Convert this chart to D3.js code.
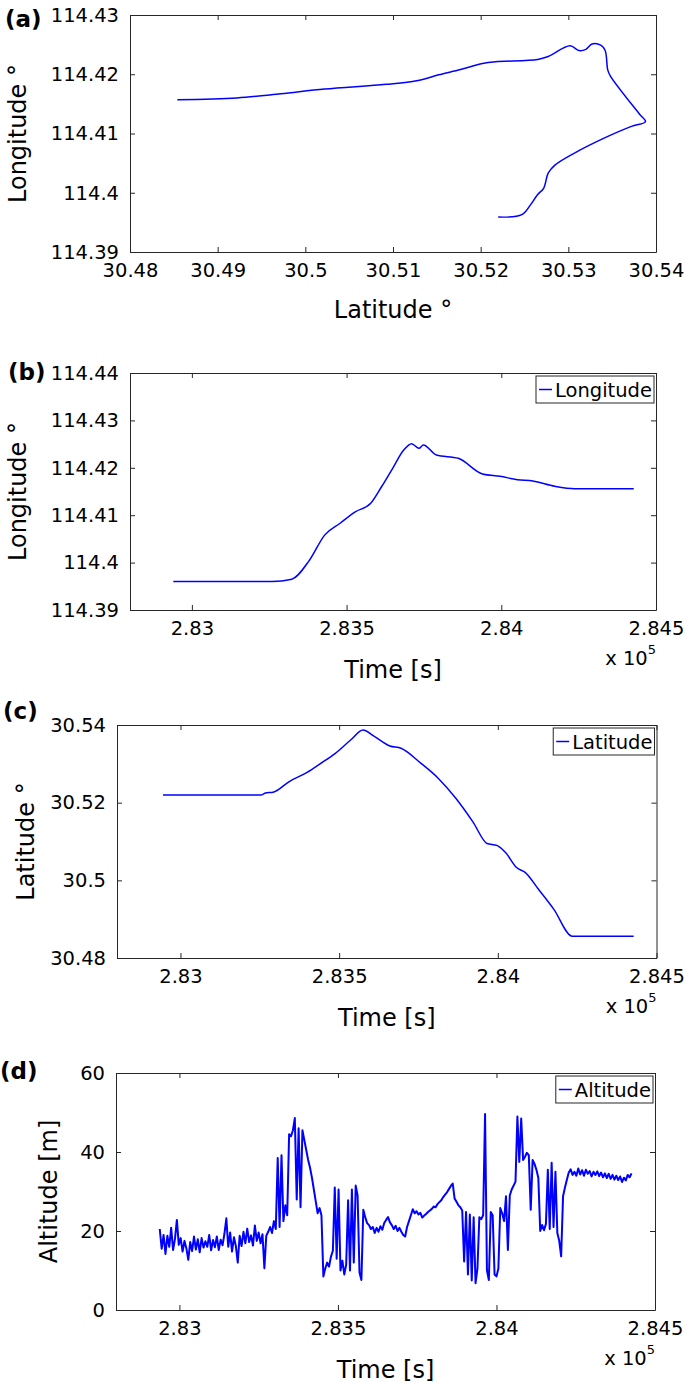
<!DOCTYPE html>
<html lang="en">
<head>
    <meta charset="UTF-8">
    <title>GPS track - position and altitude</title>
    <script src="https://cdn.jsdelivr.net/npm/d3@7/dist/d3.min.js"></script>
    <style>
        html, body {
            margin: 0;
            padding: 0;
            background: #fff;
        }
        svg text {
            font-family: "DejaVu Sans", sans-serif;
            fill: #000;
        }
    </style>
</head>
<body>
<svg id="fig" width="685" height="1383"></svg>

<script>
    // (a) track: latitude / longitude pairs in time order
    var trackLat = [30.5220, 30.5247, 30.5257, 30.5265, 30.5272, 30.5277, 30.5285, 30.5307, 30.5342, 30.5372, 30.5388,
        30.5381, 30.5348, 30.5345, 30.5342, 30.5337, 30.5327, 30.5320, 30.5312, 30.5302, 30.5277, 30.5265,
        30.5217, 30.5202, 30.5177, 30.5152, 30.5127, 30.5092, 30.5022, 30.4972, 30.4922, 30.4854];
    var trackLon = [114.3959, 114.3963, 114.3980, 114.3997, 114.4008, 114.4033, 114.4047, 114.4067, 114.4093, 114.4112, 114.4120,
        114.4133, 114.4197, 114.4207, 114.4240, 114.4249, 114.4251, 114.4242, 114.4240, 114.4248, 114.4230, 114.4225,
        114.4221, 114.4218, 114.4208, 114.4199, 114.4189, 114.4183, 114.4175, 114.4167, 114.4160, 114.4157];

    // (b) longitude over time [s]
    var lonTime = [282940, 283259, 283323, 283380, 283429, 283479, 283528, 283578, 283613, 283649, 283684, 283710,
        283734, 283748, 283790, 283861, 283939, 283996, 284052, 284102, 284173, 284237, 284428];
    var lonValue = [114.3960, 114.3960, 114.3965, 114.4005, 114.4058, 114.4083, 114.4107, 114.4125, 114.4160, 114.4199,
        114.4237, 114.4251, 114.4241, 114.4248, 114.4227, 114.4220, 114.4187, 114.4182, 114.4175, 114.4172,
        114.4161, 114.4156, 114.4156];

    // (c) latitude over time [s]
    var latTime = [282945, 283255, 283268, 283292, 283344, 283399, 283440, 283488, 283537, 283575, 283612, 283660,
        283695, 283757, 283812, 283867, 283922, 283966, 283997, 284025, 284059, 284087, 284128, 284176, 284235, 284428];
    var latValue = [30.5220, 30.5220, 30.5225, 30.5227, 30.5255, 30.5278, 30.5300, 30.5327, 30.5362, 30.5387,
        30.5370, 30.5346, 30.5340, 30.5302, 30.5263, 30.5212, 30.5150, 30.5095, 30.5090, 30.5071,
        30.5033, 30.5020, 30.4977, 30.4926, 30.4856, 30.4856];

    // (d) altitude [m], one reading every altStep seconds from altStart
    var altStart = 282938;
    var altStep = 6;
    var altValue = [
        20.5, 15.5, 19.0, 14.2, 18.8, 16.0, 20.8, 15.2, 18.0, 22.8, 16.5, 18.2, 14.8, 17.5, 15.6, 12.7, 17.2, 14.9, 18.6, 15.3,
        17.9, 14.6, 18.2, 15.8, 17.4, 16.0, 19.0, 15.1, 17.7, 15.9, 18.6, 15.2, 17.8, 16.4, 19.3, 23.2, 16.0, 19.6, 14.8, 18.4,
        16.2, 12.0, 18.8, 16.2, 19.8, 16.9, 20.6, 17.2, 18.9, 16.3, 21.4, 17.5, 19.6, 16.9, 19.2, 10.6, 18.8,
        19.8, 21.0, 19.5, 22.5, 20.5, 38.5, 21.0, 39.2, 22.5, 26.5, 24.0, 44.5, 44.0, 45.5, 48.6, 28.0, 46.0, 26.0, 45.5, 43.0,
        40.5, 38.0, 36.0, 33.5, 30.5, 27.5, 24.5, 25.8, 24.0, 8.5, 10.5, 12.0, 11.0, 13.5, 15.0, 31.0, 13.0, 30.5, 10.0, 12.5,
        9.0, 11.5, 27.8, 10.0, 30.5, 12.0, 31.5, 29.0, 9.5, 7.6, 25.4, 23.5, 22.0, 21.5, 20.5, 21.0, 19.5, 20.8, 19.8, 21.2,
        20.3, 22.0, 22.8, 23.5, 22.2, 21.5, 20.5, 21.3, 20.0, 20.8, 19.8,
        19.0, 18.6, 21.0, 22.5, 24.0, 25.5, 24.5, 25.0, 24.2, 24.6, 23.4, 23.9, 24.3, 24.8, 25.2, 25.6, 26.2, 26.0, 26.8, 27.3,
        27.8, 28.6, 29.2, 29.8, 30.6, 31.4, 32.0, 28.2, 27.4, 26.5, 26.0, 25.2, 12.3, 24.8, 9.0, 24.2, 7.5, 23.5, 6.8, 10.5,
        23.5, 23.0, 24.0, 49.6, 10.0, 7.6, 24.8, 24.0, 9.0, 8.5, 10.5, 25.8, 24.5, 22.5, 28.8, 15.2, 29.0, 30.5, 31.5, 32.5,
        49.0, 37.5, 48.5, 38.0, 38.8, 39.8, 39.2, 25.4, 38.0, 37.0, 35.5, 33.5, 20.0, 21.5, 20.2, 21.8, 35.5, 20.5, 37.3, 21.0,
        35.0, 19.5, 17.5, 13.6, 28.8, 31.0, 33.0, 34.8, 35.6, 34.2, 35.0, 34.0, 35.8, 34.3, 35.4, 34.0, 35.5, 34.5, 35.2, 33.8,
        35.0, 34.2, 35.1, 33.9, 34.8, 33.6, 34.6, 33.4, 34.5, 33.2, 34.2, 33.0, 34.0, 32.9, 33.8, 32.4, 33.5, 32.8, 34.2, 33.6,
        34.6];

    // ticks
    var trackLatTicks = [30.48, 30.49, 30.50, 30.51, 30.52, 30.53, 30.54];
    var trackLonTicks = [114.39, 114.40, 114.41, 114.42, 114.43];
    var timeTicks = [283000, 283500, 284000, 284500];
    var lonTicks = [114.39, 114.40, 114.41, 114.42, 114.43, 114.44];
    var latTicks = [30.48, 30.50, 30.52, 30.54];
    var altTicks = [0, 20, 40, 60];

    var timeDomain = [282800, 284500];
    var axisColor = "#262626";
    var lineColor = "#0000ff";
    var tickFont = 19.5;

    var svg = d3.select("#fig");

    // draws the box with inward ticks on all four sides
    function drawFrame(box, x, y, xTicks, yTicks, xFmt, yFmt) {
        var g = svg.append("g");
        var parts = [
            {ax: d3.axisBottom(x).tickValues(xTicks).tickFormat(xFmt), tr: [0, box.b]},
            {ax: d3.axisTop(x).tickValues(xTicks).tickFormat(""), tr: [0, box.t]},
            {ax: d3.axisLeft(y).tickValues(yTicks).tickFormat(yFmt), tr: [box.l, 0]},
            {ax: d3.axisRight(y).tickValues(yTicks).tickFormat(""), tr: [box.r, 0]}
        ];
        parts.forEach(function (p) {
            var a = g.append("g")
                .attr("transform", "translate(" + p.tr[0] + "," + p.tr[1] + ")")
                .attr("color", axisColor)
                .call(p.ax.tickSizeInner(-5).tickSizeOuter(0).tickPadding(11));
            a.attr("font-size", tickFont).attr("font-family", "DejaVu Sans");
            a.selectAll("text").attr("fill", "#000");
        });
        return g;
    }

    function drawLine(xs, ys, x, y, width, curve) {
        var pts = d3.zip(xs, ys);
        var line = d3.line()
            .x(function (d) { return x(d[0]); })
            .y(function (d) { return y(d[1]); });
        if (curve) line.curve(curve);
        svg.append("path")
            .datum(pts)
            .attr("fill", "none")
            .attr("stroke", lineColor)
            .attr("stroke-width", width)
            .attr("stroke-linejoin", "round")
            .attr("d", line);
    }

    function legend(box, label) {
        var g = svg.append("g");
        var rect = g.append("rect");
        var t = g.append("text")
            .attr("font-size", tickFont)
            .text(label);
        var w = t.node().getComputedTextLength();
        var right = box.r - 2, top = box.t + 3, h = 27;
        var tx = right - 2 - w;
        rect.attr("x", tx - 19).attr("y", top)
            .attr("width", w + 21).attr("height", h)
            .attr("fill", "#fff").attr("stroke", axisColor).attr("stroke-width", 1);
        t.attr("x", tx).attr("y", top + h / 2 + 7.5);
        g.append("line")
            .attr("x1", tx - 16).attr("x2", tx - 3)
            .attr("y1", top + h / 2).attr("y2", top + h / 2)
            .attr("stroke", lineColor).attr("stroke-width", 1.5);
    }

    function panelLabel(txt, x, y) {
        svg.append("text").attr("x", x).attr("y", y)
            .attr("font-size", 23).attr("font-weight", "bold")
            .text(txt);
    }

    function yLabel(txt, x, cy) {
        svg.append("text")
            .attr("transform", "translate(" + x + "," + cy + ") rotate(-90)")
            .attr("text-anchor", "middle")
            .attr("font-size", 24)
            .text(txt);
    }

    function xLabel(txt, cx, y) {
        svg.append("text")
            .attr("x", cx).attr("y", y)
            .attr("text-anchor", "middle")
            .attr("font-size", 24)
            .text(txt);
    }

    function timeExtras(box) {
        var t = svg.append("text")
            .attr("x", box.r).attr("y", box.b + 55)
            .attr("text-anchor", "end")
            .attr("font-size", tickFont);
        t.append("tspan").text("x 10");
        t.append("tspan").attr("font-size", 13).attr("dy", -11).text("5");
        xLabel("Time [s]", (box.l + box.r) / 2, box.b + 68);
    }

    var numFmt = function (d) { return String(d); };
    var timeFmt = function (d) { return String(d / 1e5); };

    // ---- (a) ----
    var boxA = {l: 130, r: 656, t: 15, b: 252};
    var xA = d3.scaleLinear().domain([30.48, 30.54]).range([boxA.l, boxA.r]);
    var yA = d3.scaleLinear().domain([114.39, 114.43]).range([boxA.b, boxA.t]);
    drawLine(trackLat, trackLon, xA, yA, 1.5, d3.curveCatmullRom.alpha(0.5));
    drawFrame(boxA, xA, yA, trackLatTicks, trackLonTicks, numFmt, numFmt);
    panelLabel("(a)", 5, 27);
    yLabel("Longitude °", 26, (boxA.t + boxA.b) / 2);
    xLabel("Latitude °", (boxA.l + boxA.r) / 2, 318);

    // ---- (b) ----
    var boxB = {l: 130, r: 656, t: 373, b: 610};
    var xB = d3.scaleLinear().domain(timeDomain).range([boxB.l, boxB.r]);
    var yB = d3.scaleLinear().domain([114.39, 114.44]).range([boxB.b, boxB.t]);
    drawLine(lonTime, lonValue, xB, yB, 1.5, d3.curveMonotoneX);
    drawFrame(boxB, xB, yB, timeTicks, lonTicks, timeFmt, numFmt);
    legend(boxB, "Longitude");
    panelLabel("(b)", 8, 380);
    yLabel("Longitude °", 26, (boxB.t + boxB.b) / 2);
    timeExtras(boxB);

    // ---- (c) ----
    var boxC = {l: 117, r: 656.5, t: 725, b: 958};
    var xC = d3.scaleLinear().domain(timeDomain).range([boxC.l, boxC.r]);
    var yC = d3.scaleLinear().domain([30.48, 30.54]).range([boxC.b, boxC.t]);
    drawLine(latTime, latValue, xC, yC, 1.5, d3.curveMonotoneX);
    drawFrame(boxC, xC, yC, timeTicks, latTicks, timeFmt, numFmt);
    legend(boxC, "Latitude");
    panelLabel("(c)", 3, 719);
    yLabel("Latitude °", 34, (boxC.t + boxC.b) / 2);
    timeExtras(boxC);

    // ---- (d) ----
    var boxD = {l: 116, r: 655, t: 1073, b: 1310};
    var xD = d3.scaleLinear().domain(timeDomain).range([boxD.l, boxD.r]);
    var yD = d3.scaleLinear().domain([0, 60]).range([boxD.b, boxD.t]);
    var altTime = altValue.map(function (v, i) { return altStart + i * altStep; });
    drawLine(altTime, altValue, xD, yD, 2, null);
    drawFrame(boxD, xD, yD, timeTicks, altTicks, timeFmt, numFmt);
    legend(boxD, "Altitude");
    panelLabel("(d)", 0, 1079);
    yLabel("Altitude [m]", 57, (boxD.t + boxD.b) / 2);
    timeExtras(boxD);
</script>
</body>
</html>
